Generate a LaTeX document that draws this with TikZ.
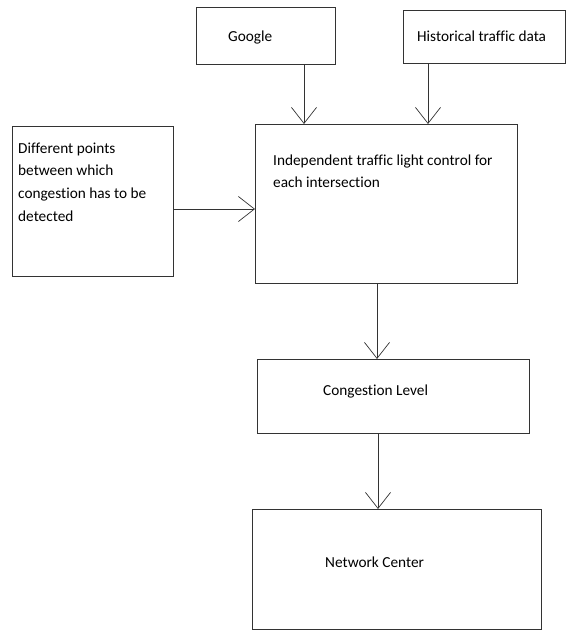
\documentclass[tikz,border=0pt]{standalone}
\usepackage{fontspec}
\setmainfont{Carlito}[Ligatures={NoCommon}]
\usetikzlibrary{arrows.meta}
\begin{document}
\begin{tikzpicture}[x=1pt,y=-1pt,
  box/.style={draw=black!80,line width=0.9pt,inner sep=0pt,outer sep=0pt,anchor=north west},
  lbl/.style={inner sep=0pt,anchor=base west,align=left,font=\fontsize{15.3}{22.8}\selectfont},
  arr/.style={draw=black!80,line width=0.7pt,-{Straight Barb[length=16pt,width=25pt,line width=0.7pt]}}]
\useasboundingbox (0,0) rectangle (566,630);
\node[box,minimum width=139pt,minimum height=57pt] (google) at (196,7) {};
\node[box,minimum width=162pt,minimum height=53pt] (hist) at (403,10) {};
\node[box,minimum width=262pt,minimum height=159pt] (main) at (255,124) {};
\node[box,minimum width=161pt,minimum height=150pt] (left) at (12,126) {};
\node[box,minimum width=272pt,minimum height=74pt] (cong) at (257,359) {};
\node[box,minimum width=289pt,minimum height=120pt] (net) at (252,509) {};
\node[lbl] (tg) at (228,41) {Google};
\node[lbl] (th) at (417,41) {Historical traffic data};
\node[lbl,font=\fontsize{15.3}{22}\selectfont] (tm) at (273,187) {Independent traffic light control for\\each intersection};
\node[lbl] (tl) at (18,221.5) {Different points\\between which\\congestion has to be\\detected};
\node[lbl] (tc) at (323,395) {Congestion Level};
\node[lbl] (tn) at (325,567) {Network Center};
\coordinate (g1) at (304,64);
\coordinate (h1) at (428,63);
\coordinate (m1) at (377,283);
\coordinate (c1) at (378,433);
\coordinate (l1) at (173,209);
\draw[arr] (g1) -- (g1 |- main.north);
\draw[arr] (h1) -- (h1 |- main.north);
\draw[arr] (l1) -- (l1 -| main.west);
\draw[arr] (m1) -- (m1 |- cong.north);
\draw[arr] (c1) -- (c1 |- net.north);
\end{tikzpicture}
\end{document}
